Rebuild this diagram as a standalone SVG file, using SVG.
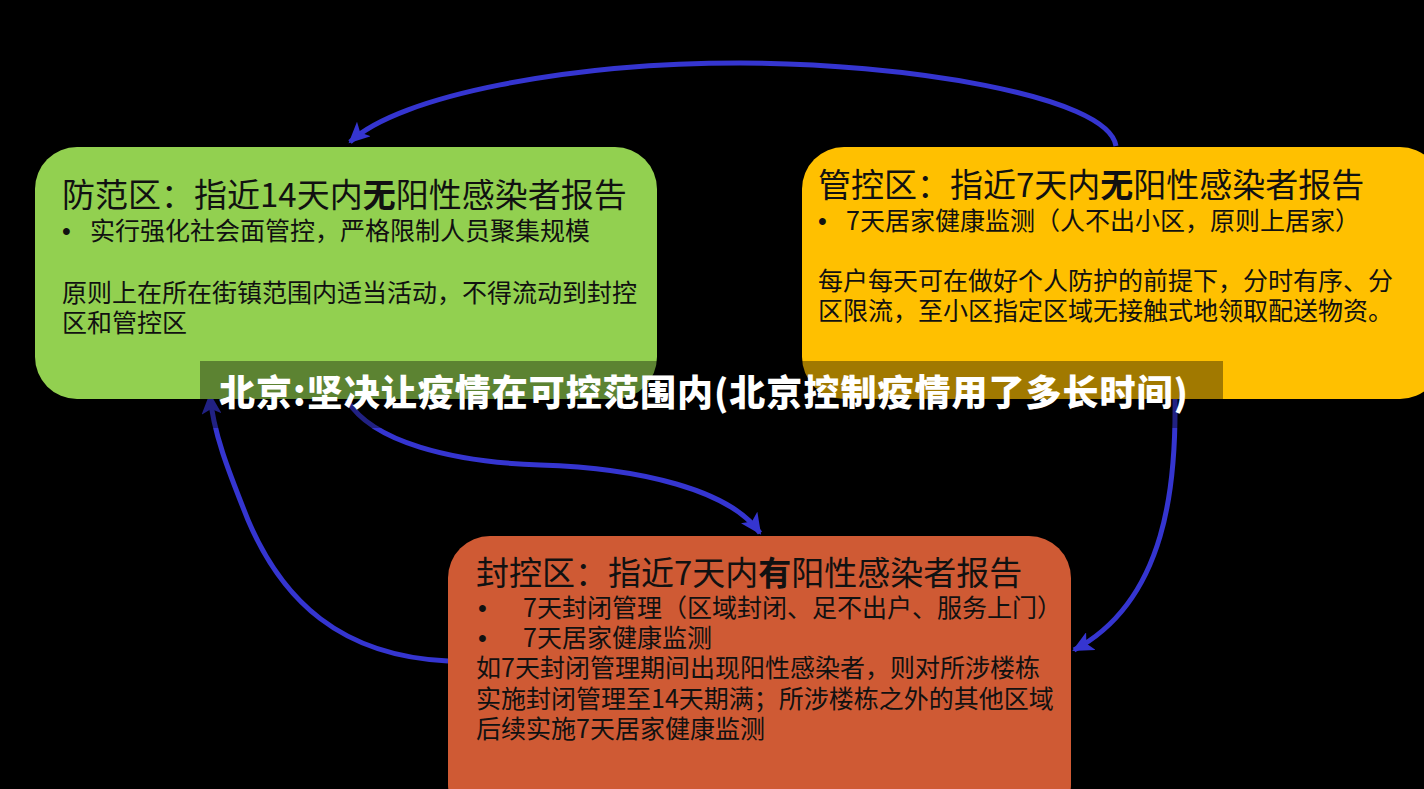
<svg xmlns="http://www.w3.org/2000/svg" width="1424" height="789" viewBox="0 0 1424 789">
<defs>
<style>
.t{font-family:"Noto Sans CJK SC","Noto Sans",sans-serif;fill:#111;}
.h{font-size:33px;}
.b{font-size:25px;}
.d{font-family:"Liberation Sans","Noto Sans",sans-serif;font-size:25px;fill:#111;}
.w{font-weight:bold;}
.con{fill:none;stroke:#3535D0;stroke-width:5;}
.ban{font-family:"Noto Sans CJK SC","Noto Sans",sans-serif;font-weight:900;font-size:36px;fill:#fff;}
</style>
<marker id="ah" markerUnits="userSpaceOnUse" markerWidth="22" markerHeight="20" refX="19" refY="10" orient="auto">
<path d="M0,0 L21,10 L0,20 L5,10 z" fill="#3535D0"/>
</marker>
</defs>
<rect x="0" y="0" width="1424" height="789" fill="#000"/>

<g id="connectors">
<path class="con" d="M1116,146 C1108,95 900,63 740,63 C570,63 400,95 350,142" marker-end="url(#ah)"/>
<path class="con" d="M347,400 C372,442 452,462 540,465 C640,468 730,490 760,533" marker-end="url(#ah)"/>
<path class="con" d="M448,661 C340,656 282,600 248,520 C228,470 213,432 210,395" marker-end="url(#ah)"/>
<path class="con" d="M1175,399 C1176,480 1168,600 1074,650" marker-end="url(#ah)"/>
</g>

<g id="node-fangfan">
<rect x="35" y="147" width="622" height="252" rx="42" fill="#92D050"/>
<text class="t h" x="62" y="207">防范区：指近14天内<tspan class="w">无</tspan>阳性感染者报告</text>
<text class="d" x="62" y="240">•</text>
<text class="t b" x="90" y="240">实行强化社会面管控，严格限制人员聚集规模</text>
<text class="t b" x="62" y="302">原则上在所在街镇范围内适当活动，不得流动到封控</text>
<text class="t b" x="62" y="332">区和管控区</text>
</g>

<g id="node-guankong">
<rect x="802" y="147" width="640" height="252" rx="42" fill="#FFC000"/>
<text class="t h" x="818" y="197">管控区：指近7天内<tspan class="w">无</tspan>阳性感染者报告</text>
<text class="d" x="818" y="230">•</text>
<text class="t b" x="846" y="230">7天居家健康监测（人不出小区，原则上居家）</text>
<text class="t b" x="818" y="290">每户每天可在做好个人防护的前提下，分时有序、分</text>
<text class="t b" x="818" y="320">区限流，至小区指定区域无接触式地领取配送物资。</text>
</g>

<g id="node-fengkong">
<rect x="448" y="536" width="623" height="290" rx="42" fill="#CF5A34"/>
<text class="t h" x="476" y="585">封控区：指近7天内<tspan class="w">有</tspan>阳性感染者报告</text>
<text class="d" x="478" y="617">•</text>
<text class="t b" x="523" y="617">7天封闭管理（区域封闭、足不出户、服务上门）</text>
<text class="d" x="478" y="647">•</text>
<text class="t b" x="523" y="647">7天居家健康监测</text>
<text class="t b" x="476" y="677">如7天封闭管理期间出现阳性感染者，则对所涉楼栋</text>
<text class="t b" x="476" y="708">实施封闭管理至14天期满；所涉楼栋之外的其他区域</text>
<text class="t b" x="476" y="738">后续实施7天居家健康监测</text>
</g>

<g id="banner">
<rect x="200" y="361" width="1023" height="67" fill="#000" fill-opacity="0.37"/>
<text class="ban" x="219" y="406" textLength="969" lengthAdjust="spacing">北京:坚决让疫情在可控范围内(北京控制疫情用了多长时间)</text>
</g>
</svg>
